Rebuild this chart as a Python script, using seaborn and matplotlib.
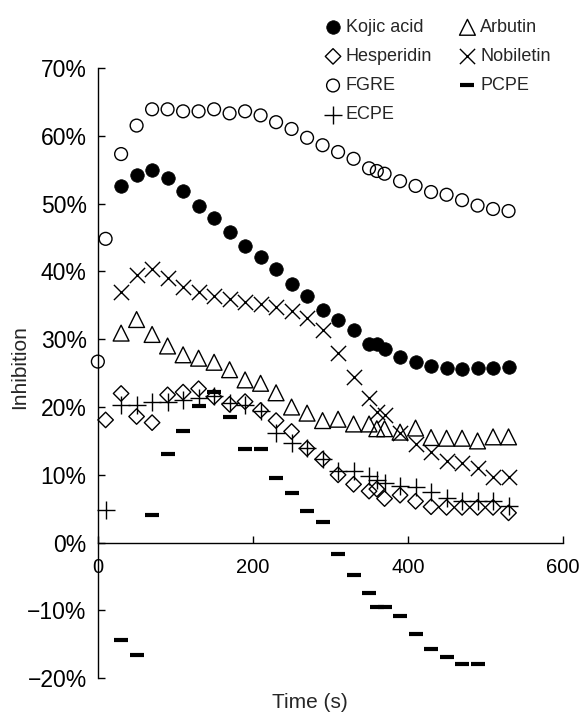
import numpy as np
import seaborn as sns
from matplotlib import pyplot as plt
from matplotlib.ticker import PercentFormatter

nan = np.nan

# sampling times (s)
times = [0, 10, 30, 50, 70, 90, 110, 130, 150, 170, 190, 210, 230, 250, 270,
         290, 310, 330, 350, 360, 370, 390, 410, 430, 450, 470, 490, 510, 530]

# inhibition (%)
kojic_acid = [nan, nan, 52.6, 54.2, 54.9, 53.8, 51.8, 49.7, 47.8, 45.8, 43.7, 42.1, 40.3, 38.2, 36.3,
              34.3, 32.9, 31.3, 29.3, 29.3, 28.5, 27.4, 26.6, 26.1, 25.8, 25.6, 25.8, 25.8, 25.9]
hesperidin = [nan, 18.1, 22.0, 18.6, 17.7, 21.8, 22.2, 22.7, 21.5, 20.4, 20.8, 19.5, 18.0, 16.4, 13.9,
              12.3, 10.0, 8.6, 7.6, 7.9, 6.5, 7.0, 6.1, 5.3, 5.2, 5.2, 5.2, 5.2, 4.4]
fgre = [26.7, 44.8, 57.3, 61.5, 63.9, 63.9, 63.6, 63.6, 63.9, 63.3, 63.6, 63.0, 62.0, 61.0, 59.7,
        58.6, 57.6, 56.6, 55.2, 54.8, 54.4, 53.3, 52.6, 51.7, 51.3, 50.5, 49.7, 49.2, 48.9]
ecpe = [nan, 4.8, 20.3, 20.3, 20.8, 20.8, 21.0, 21.3, 21.6, 20.6, 20.3, 19.4, 16.2, 14.7, 13.9,
        12.4, 10.6, 10.5, 9.9, 9.3, 8.8, 8.4, 8.2, 7.4, 6.6, 6.1, 6.1, 6.1, 5.4]
arbutin = [nan, nan, 30.9, 32.9, 30.7, 29.0, 27.7, 27.2, 26.6, 25.5, 24.0, 23.5, 22.1, 20.0, 19.1,
           18.0, 18.2, 17.5, 17.5, 16.8, 16.8, 16.3, 16.9, 15.5, 15.4, 15.4, 15.0, 15.6, 15.6]
nobiletin = [nan, nan, 37.0, 39.5, 40.4, 39.0, 37.7, 37.0, 36.4, 35.9, 35.5, 35.2, 34.8, 34.1, 33.2,
             31.3, 28.0, 24.5, 21.3, 19.3, 18.8, 16.1, 14.5, 13.4, 12.1, 11.8, 11.0, 9.7, 9.7]
pcpe = [nan, nan, -14.3, -16.6, 4.1, 13.1, 16.5, 20.1, 22.2, 18.6, 13.8, 13.8, 9.6, 7.3, 4.7,
        3.1, -1.6, -4.8, -7.4, -9.5, -9.5, -10.8, -13.4, -15.7, -16.8, -17.9, -17.9, nan, nan]

sns.set_style('ticks')
plt.rcParams['font.family'] = ['Liberation Sans', 'DejaVu Sans']

fig, ax = plt.subplots(figsize=(5.79, 7.15), dpi=100)
fig.subplots_adjust(left=0.169, right=0.972, top=0.905, bottom=0.0513)

series = [
    ('Kojic acid', kojic_acid, 'o', dict(s=95, color='black', edgecolor='black', linewidth=0.5)),
    ('Hesperidin', hesperidin, 'D', dict(s=62, color='black', facecolor='none', edgecolor='black', linewidth=1)),
    ('FGRE', fgre, 'o', dict(s=85, color='black', facecolor='none', edgecolor='black', linewidth=1)),
    ('ECPE', ecpe, '+', dict(s=170, color='black', linewidth=1)),
    ('Arbutin', arbutin, '^', dict(s=130, color='black', facecolor='none', edgecolor='black', linewidth=1)),
    ('Nobiletin', nobiletin, 'x', dict(s=120, color='black', linewidth=1)),
    ('PCPE', pcpe, '_', dict(s=110, color='black', linewidth=3)),
]
for name, vals, mk, kw in series:
    sns.scatterplot(x=times, y=vals, marker=mk, label=name, clip_on=False, ax=ax, **kw)

ax.set_xlim(0, 600)
ax.set_ylim(-20, 70)
ax.set_xticks([0, 200, 400, 600])
ax.set_yticks(range(-20, 71, 10))
ax.yaxis.set_major_formatter(PercentFormatter(decimals=0))
ax.spines['bottom'].set_position(('data', 0))
ax.spines['top'].set_visible(False)
ax.spines['right'].set_visible(False)
for sp in ['left', 'bottom']:
    ax.spines[sp].set_linewidth(1)
    ax.spines[sp].set_color('black')
ax.tick_params(direction='in', length=5, width=1, color='black', labelcolor='black')
ax.tick_params(axis='x', pad=11, labelsize=14.5)
ax.tick_params(axis='y', pad=8, labelsize=16.5)

ax.set_xlabel('Time (s)', fontsize=15)
ax.set_ylabel('Inhibition', fontsize=15)
ax.xaxis.set_label_coords(0.456, -0.024)
ax.yaxis.set_label_coords(-0.147, 0.51)

handles, labels = ax.get_legend_handles_labels()
ax.legend(handles, labels, ncol=2, loc='upper left', bbox_to_anchor=(0.544, 0.986),
          bbox_transform=fig.transFigure, frameon=False, fontsize=13, borderpad=0,
          handlelength=1.0, handletextpad=0.2, columnspacing=1.46, labelspacing=0.67)

fig.savefig('out.png', dpi=100)
